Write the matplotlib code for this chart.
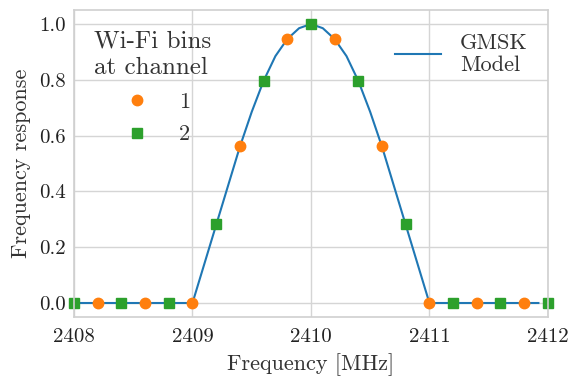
import matplotlib
matplotlib.use('Agg')
import matplotlib.pyplot as plt
import numpy as np

plt.rcParams['font.family'] = 'serif'
plt.rcParams['font.serif'] = ['cmr10', 'DejaVu Serif']
plt.rcParams['mathtext.fontset'] = 'cm'
plt.rcParams['axes.formatter.use_mathtext'] = True
plt.rcParams['font.size'] = 14

# GMSK model curve
model_f = [2408.0, 2408.5, 2409.0, 2409.1, 2409.2, 2409.3, 2409.4, 2409.5, 2409.6,
           2409.7, 2409.8, 2409.9, 2410.0, 2410.1, 2410.2, 2410.3, 2410.4, 2410.5,
           2410.6, 2410.7, 2410.8, 2410.9, 2411.0, 2411.5, 2411.92]
model_r = [0.0, 0.0, 0.0, 0.14, 0.28, 0.42, 0.56, 0.685, 0.796,
           0.885, 0.946, 0.985, 1.0, 0.985, 0.946, 0.885, 0.796, 0.685,
           0.56, 0.42, 0.28, 0.14, 0.0, 0.0, 0.0]

# Wi-Fi bins, channel 1
ch1_f = [2408.2, 2408.6, 2409.0, 2409.4, 2409.8, 2410.2, 2410.6, 2411.0, 2411.4, 2411.8]
ch1_r = [0.0, 0.0, 0.0, 0.562, 0.946, 0.946, 0.562, 0.0, 0.0, 0.0]

# Wi-Fi bins, channel 2
ch2_f = [2408.0, 2408.4, 2408.8, 2409.2, 2409.6, 2410.0, 2410.4, 2410.8, 2411.2, 2411.6, 2412.0]
ch2_r = [0.0, 0.0, 0.0, 0.282, 0.796, 1.0, 0.796, 0.282, 0.0, 0.0, 0.0]

fig = plt.figure(figsize=(5.81, 3.87), dpi=100)
ax = fig.add_axes([0.1274, 0.181, 0.8156, 0.793])

ax.grid(True, color='#d5d5d5', linewidth=1.0)
ax.set_axisbelow(True)
for s in ax.spines.values():
	s.set_color('#d0d0d0')
	s.set_linewidth(1.2)
ax.tick_params(length=0, pad=6, colors='#222222', labelsize=15)
ax.tick_params(axis='x', pad=8)

line, = ax.plot(model_f, model_r, color='tab:blue', linewidth=1.5, label='GMSK\nModel')
m1, = ax.plot(ch1_f, ch1_r, 'o', color='tab:orange', markersize=7.5, linestyle='none', label='1', clip_on=False)
m2, = ax.plot(ch2_f, ch2_r, 's', color='tab:green', markersize=7, linestyle='none', label='2', clip_on=False)

ax.set_xlim(2408, 2412)
ax.set_ylim(-0.05, 1.05)
ax.set_xticks([2408, 2409, 2410, 2411, 2412])
ax.set_yticks([0.0, 0.2, 0.4, 0.6, 0.8, 1.0])
ax.xaxis.set_major_formatter(matplotlib.ticker.FuncFormatter(lambda v, p: '%d' % v))
ax.yaxis.set_major_formatter(matplotlib.ticker.FuncFormatter(lambda v, p: '%.1f' % v))
ax.set_xlabel('Frequency [MHz]', color='#333333', fontsize=16, labelpad=5)
ax.set_ylabel('Frequency response', color='#333333', fontsize=16, labelpad=6)

leg1 = ax.legend(handles=[m1, m2], title='Wi-Fi bins\nat channel', loc='upper left',
	frameon=False, bbox_to_anchor=(0.0, 1.0), handletextpad=0.9,
	fontsize=16, title_fontsize=18, labelspacing=0.58)
for t in leg1.get_texts():
	t.set_color('#333333')
leg1.get_title().set_color('#333333')
leg1.get_title().set_multialignment('left')
leg1.get_title().set_linespacing(1.3)
ax.add_artist(leg1)
leg2 = ax.legend(handles=[line], loc='upper right', frameon=False,
	bbox_to_anchor=(1.0, 0.99), fontsize=16, handlelength=2.05, handletextpad=0.86)
for t in leg2.get_texts():
	t.set_color('#333333')

fig.savefig('out.png', dpi=100)
